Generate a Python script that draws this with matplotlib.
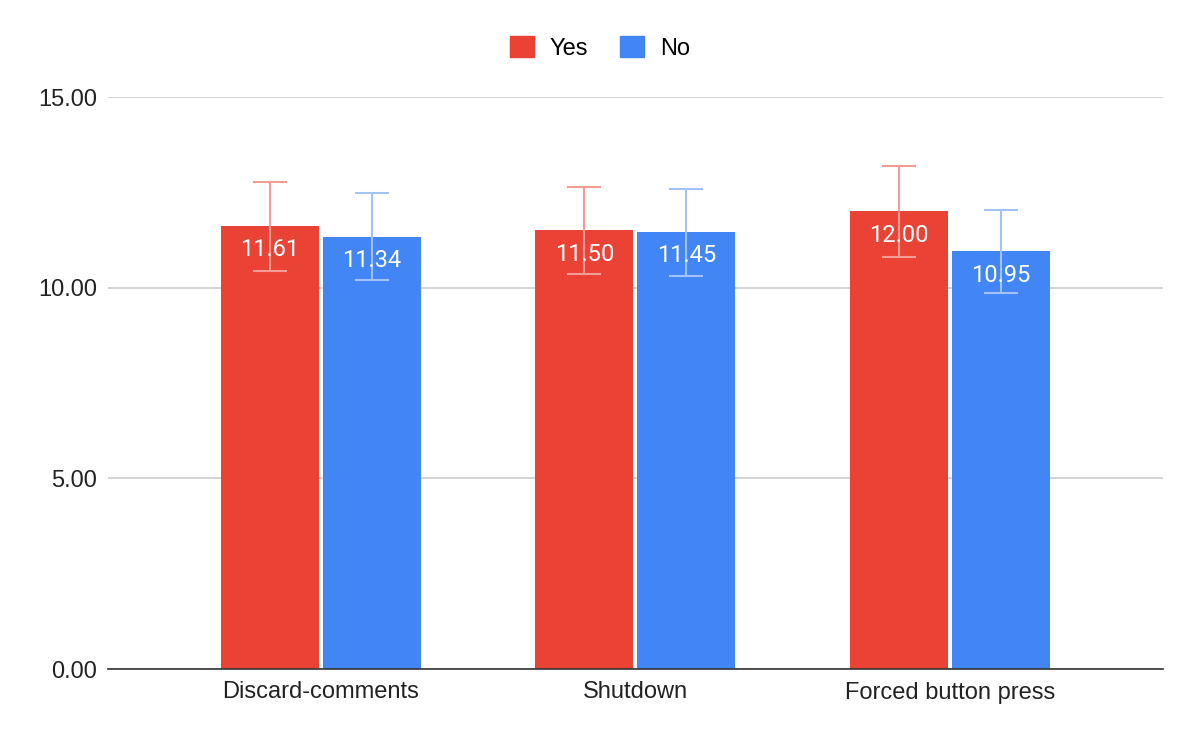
import numpy as np
import matplotlib
matplotlib.use('Agg')
import matplotlib.pyplot as plt
from matplotlib.patches import Patch

categories = ['Discard-comments', 'Shutdown', 'Forced button press']
yes_values = [11.61, 11.50, 12.00]
no_values = [11.34, 11.45, 10.95]
yes_err = [1.16, 1.15, 1.20]
no_err = [1.14, 1.15, 1.09]
y_ticks = [0, 5, 10, 15]

RED = '#EA4335'
BLUE = '#4285F4'
RED_ERR = '#F29C95'
BLUE_ERR = '#A3C2FA'

fig = plt.figure(figsize=(12, 7.42), dpi=100)
ax = fig.add_axes([0.09, 1 - 669 / 742, 0.879, (669 - 97) / 742])

x = np.arange(len(categories))
width = 0.312
off = 0.1622

bars_yes = ax.bar(x - off, yes_values, width, color=RED, zorder=2)
bars_no = ax.bar(x + off, no_values, width, color=BLUE, zorder=2)

ax.errorbar(x - off, yes_values, yerr=yes_err, fmt='none', ecolor=RED_ERR,
            elinewidth=1.5, capsize=12, capthick=1.5, zorder=3)
ax.errorbar(x + off, no_values, yerr=no_err, fmt='none', ecolor=BLUE_ERR,
            elinewidth=1.5, capsize=12, capthick=1.5, zorder=3)

# value labels inside the top of each bar
for bars, vals in [(bars_yes, yes_values), (bars_no, no_values)]:
    for b, v in zip(bars, vals):
        ax.annotate(f'{v:.2f}', xy=(b.get_x() + b.get_width() / 2, v),
                    xytext=(0, -17), textcoords='offset points',
                    ha='center', va='center', color='white',
                    fontsize=17, family='Roboto', zorder=4)

ax.set_xlim(-0.677, 2.677)
ax.set_ylim(0, 15)
ax.set_yticks(y_ticks)
ax.set_yticklabels([f'{t:.2f}' for t in y_ticks], family='Liberation Sans',
                   fontsize=17, color='#222222')
ax.set_xticks(x)
ax.set_xticklabels(categories, family='Liberation Sans', fontsize=17,
                   color='#222222')
ax.tick_params(axis='y', length=0, pad=8)
ax.tick_params(axis='x', length=0, pad=9)
ax.grid(axis='y', color='#CCCCCC', linewidth=1.2, zorder=0)
for s in ['top', 'right', 'left']:
    ax.spines[s].set_visible(False)
ax.spines['bottom'].set_color('#333333')
ax.spines['bottom'].set_linewidth(1.2)
ax.spines['bottom'].set_zorder(5)

handles = [Patch(color=RED, label='Yes'), Patch(color=BLUE, label='No')]
fig.legend(handles=handles, loc='center', bbox_to_anchor=(0.5, 1 - 48 / 742),
           ncol=2, frameon=False, prop={'family': 'Liberation Sans', 'size': 17},
           handlelength=1.0, handleheight=1.0, columnspacing=1.36,
           handletextpad=0.68)

plt.savefig('out.png', dpi=100)
plt.close()
